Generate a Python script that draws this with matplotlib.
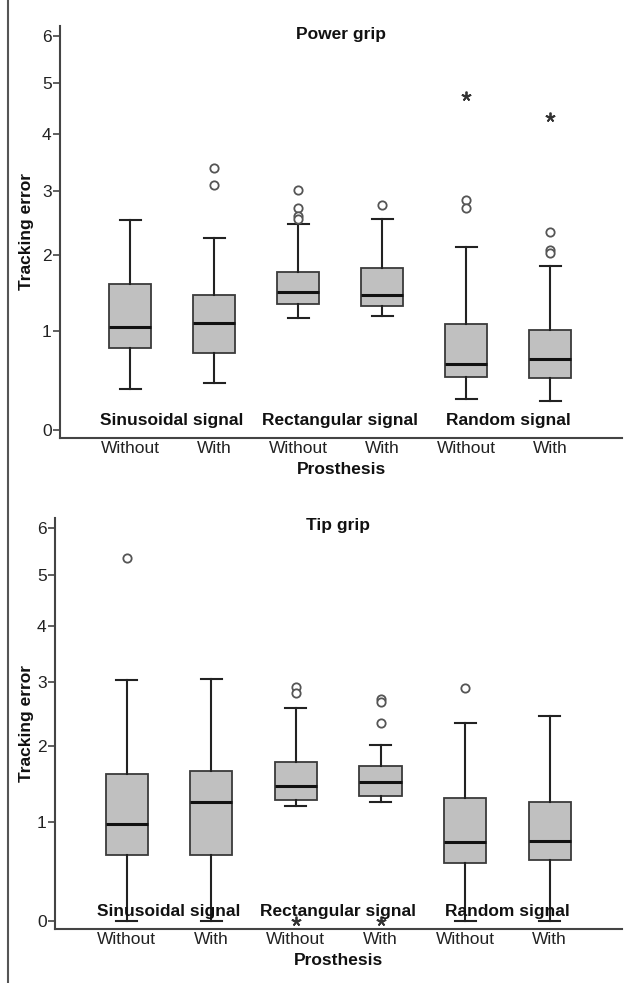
import numpy as np
import matplotlib
matplotlib.use("Agg")
import matplotlib.pyplot as plt
from matplotlib.transforms import blended_transform_factory

plt.rcParams['font.family'] = ['Liberation Sans', 'DejaVu Sans']

groups = ["Without", "With", "Without", "With", "Without", "With"]
signals = ["Sinusoidal signal", "Rectangular signal", "Random signal"]

# Power grip
power_whislo = [0.37, 0.43, 1.16, 1.18, 0.28, 0.26]
power_q1 = [0.80, 0.75, 1.33, 1.31, 0.49, 0.48]
power_med = [1.05, 1.09, 1.48, 1.45, 0.63, 0.68]
power_q3 = [1.59, 1.44, 1.76, 1.81, 1.08, 1.01]
power_whishi = [2.53, 2.24, 2.46, 2.54, 2.12, 1.84]
power_outliers = [[], [3.38, 3.09], [3.01, 2.72, 2.58, 2.54], [2.77], [2.85, 2.72], [2.34, 2.07, 2.02]]
power_extremes = [[], [], [], [], [4.73], [4.33]]

# Tip grip
tip_whislo = [0.0, 0.0, 1.20, 1.24, 0.0, 0.0]
tip_q1 = [0.63, 0.63, 1.27, 1.32, 0.55, 0.58]
tip_med = [0.98, 1.24, 1.45, 1.50, 0.77, 0.78]
tip_q3 = [1.61, 1.65, 1.77, 1.72, 1.30, 1.25]
tip_whishi = [3.03, 3.06, 2.58, 2.02, 2.35, 2.45]
tip_outliers = [[5.35], [], [2.92, 2.82], [2.72, 2.67, 2.35], [2.90], []]
tip_extremes = [[], [], [0.0], [0.0], [], []]

panels = [
    dict(title="Power grip", whislo=power_whislo, q1=power_q1, med=power_med, q3=power_q3,
         whishi=power_whishi, outl=power_outliers, ext=power_extremes,
         rect=[60/625, 1-438/983, (622-60)/625, (438-26)/983], x0=130, dx=84, left=60, ylab=232),
    dict(title="Tip grip", whislo=tip_whislo, q1=tip_q1, med=tip_med, q3=tip_q3,
         whishi=tip_whishi, outl=tip_outliers, ext=tip_extremes,
         rect=[55/625, 1-929/983, (622-55)/625, (929-518)/983], x0=126.7, dx=84.6, left=55, ylab=724),
]

fig = plt.figure(figsize=(6.25, 9.83), dpi=100)
fig.add_artist(plt.Line2D([8/625, 8/625], [0, 1], transform=fig.transFigure, color='#555555', lw=1.5))

spine_col = '#444444'
for p in panels:
    ax = fig.add_axes(p['rect'])
    ax.set_yscale('function', functions=(lambda y: np.sqrt(np.clip(y + 1, 0, None)), lambda v: v**2 - 1))
    ax.set_ylim(-0.065, 6.22)
    pos = np.arange(1, 7)
    left_lim = 1 - (p['x0'] - p['left']) / p['dx']
    right_lim = 6 + (622 - (p['x0'] + 5 * p['dx'])) / p['dx']
    stats = []
    for i in range(6):
        stats.append(dict(med=p['med'][i], q1=p['q1'][i], q3=p['q3'][i],
                          whislo=p['whislo'][i], whishi=p['whishi'][i], fliers=[]))
    ax.bxp(stats, positions=pos, widths=0.5, patch_artist=True, showfliers=False,
           boxprops=dict(facecolor='#c0c0c0', edgecolor='#3a3a3a', linewidth=1.3),
           medianprops=dict(color='#111111', linewidth=2.2),
           whiskerprops=dict(color='#222222', linewidth=1.5),
           capprops=dict(color='#222222', linewidth=1.5), capwidths=0.25)
    for i in range(6):
        if p['outl'][i]:
            ax.plot([pos[i]] * len(p['outl'][i]), p['outl'][i], linestyle='none', marker='o',
                    markersize=6, markerfacecolor='white', markeredgecolor='#555555', markeredgewidth=1.3)
        if p['ext'][i]:
            ax.plot([pos[i]] * len(p['ext'][i]), p['ext'][i], linestyle='none', marker=(5, 2, 0),
                    markersize=7, markeredgewidth=1.3, color='#333333', clip_on=False)
    ax.set_xlim(left_lim, right_lim)
    ax.set_yticks([0, 1, 2, 3, 4, 5, 6])
    ax.set_yticklabels(['0', '1', '2', '3', '4', '5', '6'], fontsize=12.5, color='#222222')
    ax.set_xticks(pos)
    ax.set_xticklabels(groups, fontsize=12.5, color='#222222')
    ax.tick_params(axis='x', length=0, pad=2.5)
    ax.tick_params(axis='y', length=5, width=1.2, color=spine_col, pad=1)
    ax.spines['top'].set_visible(False)
    ax.spines['right'].set_visible(False)
    for s in ['left', 'bottom']:
        ax.spines[s].set_color(spine_col)
        ax.spines[s].set_linewidth(1.5)
    tr = blended_transform_factory(ax.transData, ax.transAxes)
    for j, s in enumerate(signals):
        ax.text(1.5 + 2 * j, 0.043, s, transform=tr, ha='center', va='center',
                fontsize=12.5, fontweight='bold', color='#111111')
    ax.text(0.5, 1 - 8/412, p['title'], transform=ax.transAxes, ha='center', va='center',
            fontsize=12.5, fontweight='bold', color='#111111')
    ax.text(0.5, -32/412, "Prosthesis", transform=ax.transAxes, ha='center', va='center',
            fontsize=12.5, fontweight='bold', color='#111111')
    fig.text(26/625, 1 - p['ylab']/983, "Tracking error", rotation=90, ha='center', va='center',
             fontsize=12.5, fontweight='bold', color='#111111')

fig.savefig("out.png", dpi=100)
